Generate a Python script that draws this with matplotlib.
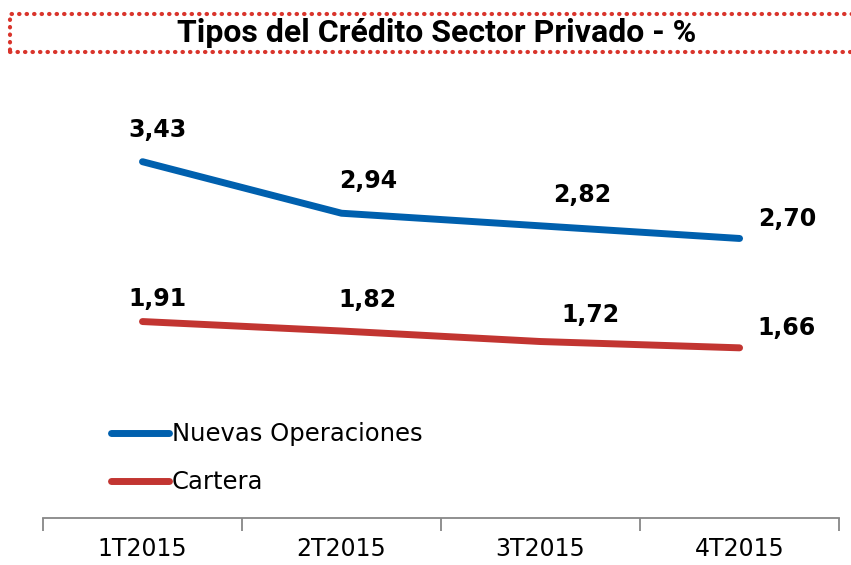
import matplotlib.pyplot as plt
from matplotlib.patches import Rectangle

quarters = ["1T2015", "2T2015", "3T2015", "4T2015"]
nuevas = [3.43, 2.94, 2.82, 2.70]
cartera = [1.91, 1.82, 1.72, 1.66]

# label offsets in points (layout only)
off_nuevas = [(11, 23), (19, 23), (30, 22), (34, 14)]
off_cartera = [(11, 16), (19, 22), (36, 19), (34, 14)]

blue = "#0060AE"
red = "#C23531"

plt.rcParams['font.family'] = ['DejaVu Sans']

fig = plt.figure(figsize=(8.51, 5.65), dpi=100)
ax = fig.add_axes([0.0505, 0.0832, 0.9355, 0.781])

x = list(range(len(quarters)))
ax.plot(x, nuevas, color=blue, lw=5, solid_capstyle='round', solid_joinstyle='round',
        label="Nuevas Operaciones")
ax.plot(x, cartera, color=red, lw=5, solid_capstyle='round', solid_joinstyle='round',
        label="Cartera")

for xi, v, o in zip(x, nuevas, off_nuevas):
    ax.annotate(f"{v:.2f}".replace(".", ","), (xi, v), xytext=o, textcoords='offset points',
                ha='center', va='center', fontsize=17, fontweight='bold')
for xi, v, o in zip(x, cartera, off_cartera):
    ax.annotate(f"{v:.2f}".replace(".", ","), (xi, v), xytext=o, textcoords='offset points',
                ha='center', va='center', fontsize=17, fontweight='bold')

ax.set_xlim(-0.5, len(quarters) - 0.5)
ax.set_ylim(0.042, 4.238)
ax.set_xticks(x)
ax.set_xticklabels(quarters, fontsize=17)
ax.set_xticks([i - 0.5 for i in range(len(quarters) + 1)], minor=True)
ax.tick_params(axis='x', which='major', length=0, pad=14)
ax.tick_params(axis='x', which='minor', length=9, width=1.3, color='#878787')
ax.set_yticks([])
for s in ['left', 'right', 'top']:
    ax.spines[s].set_visible(False)
ax.spines['bottom'].set_color('#878787')
ax.spines['bottom'].set_linewidth(1.3)

leg = ax.legend(loc='upper left', bbox_to_anchor=(0.130, 0.253), bbox_transform=fig.transFigure,
                frameon=False, fontsize=17.5, handlelength=2.4, handletextpad=0.12,
                labelspacing=1.0, borderaxespad=0, borderpad=0)

# dotted title box
box = Rectangle((10 / 851, 1 - 52 / 565), 860 / 851, 38 / 565, transform=fig.transFigure,
                fill=False, edgecolor='#D9342B', lw=3, linestyle=(0, (0.1, 1.7)),
                capstyle='round', clip_on=False)
fig.add_artist(box)
fig.text(437 / 851, 1 - 33 / 565, "Tipos del Crédito Sector Privado - %", ha='center', va='center',
         fontsize=23, fontweight='bold', family='Roboto')

fig.savefig("out.png", dpi=100)
